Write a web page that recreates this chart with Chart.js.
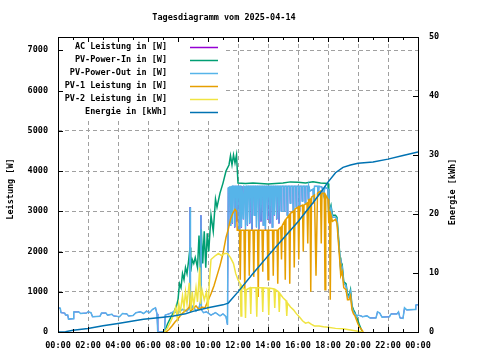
<!DOCTYPE html>
<html>
<head>
<meta charset="utf-8">
<script src="https://cdn.jsdelivr.net/npm/chart.js@4.4.1/dist/chart.umd.min.js"></script>
<style>
  html, body { margin: 0; padding: 0; background: #fff; }
  #wrap { width: 480px; height: 360px; }
</style>
</head>
<body>
<div id="wrap"><canvas id="tages_chart" width="480" height="360"></canvas></div>
<script>
const chartTitle = "Tagesdiagramm vom 2025-04-14";
const seriesNames = ["AC Leistung in [W]", "PV-Power-In in [W]", "PV-Power-Out in [W]",
    "PV-1 Leistung in [W]", "PV-2 Leistung in [W]", "Energie in [kWh]"];
const seriesColors = ["#9400d3", "#009e73", "#56b4e9", "#e69f00", "#f0e442", "#0072b2"];

const timeTicks = [0, 2, 4, 6, 8, 10, 12, 14, 16, 18, 20, 22, 24];
const timeLabels = ["00:00", "02:00", "04:00", "06:00", "08:00", "10:00", "12:00",
    "14:00", "16:00", "18:00", "20:00", "22:00", "00:00"];
const powerTicks = [0, 1000, 2000, 3000, 4000, 5000, 6000, 7000];
const energyTicks = [0, 10, 20, 30, 40, 50];
const powerMax = 7330;
const energyMax = 50;

const pvPowerIn = [
    [6.9, 0], [7.1, 0], [7.3, 200], [7.5, 350], [7.7, 480], [7.9, 650], [8.0, 800], [8.1, 1200],
    [8.2, 1100], [8.3, 1450], [8.4, 1300], [8.5, 1600], [8.6, 1450], [8.7, 1750], [8.8, 2100],
    [8.85, 1500], [8.95, 1800], [9.05, 1700], [9.15, 1850], [9.3, 1600], [9.4, 2400], [9.5, 1500],
    [9.55, 2550], [9.65, 1700], [9.75, 2500], [9.85, 1600], [9.95, 2450], [10.05, 2000], [10.2, 2900],
    [10.35, 2500], [10.5, 3300], [10.6, 3100], [10.8, 3450], [11.0, 3700], [11.2, 4000], [11.4, 4150],
    [11.5, 4380], [11.6, 4150], [11.7, 4400], [11.8, 4200], [11.9, 4400], [12.0, 3700], [12.5, 3690],
    [13.0, 3700], [14.0, 3680], [15.0, 3700], [15.5, 3730], [16.0, 3720], [16.5, 3700], [17.0, 3730],
    [17.5, 3700], [18.0, 3690], [18.05, 2950], [18.2, 3150], [18.3, 2900], [18.5, 2900], [18.6, 2850],
    [18.7, 2350], [18.8, 1850], [18.85, 1550], [18.95, 1650], [19.05, 1250], [19.2, 1200], [19.3, 950],
    [19.4, 900], [19.5, 1050], [19.6, 650], [19.7, 550], [19.8, 480], [19.9, 380], [20.0, 280],
    [20.1, 170], [20.2, 80], [20.3, 0]
];

const pvPowerOut = [
    [0, 600], [0.15, 590], [0.2, 480], [0.45, 470], [0.5, 420], [0.65, 420], [0.7, 320], [1.0, 330],
    [1.05, 500], [1.4, 500], [1.5, 460], [1.9, 470], [2.0, 500], [2.2, 480], [2.3, 380], [2.8, 390],
    [2.9, 470], [3.2, 470], [3.3, 420], [3.6, 440], [3.7, 400], [4.1, 380], [4.3, 460], [4.6, 450],
    [4.7, 400], [5.0, 410], [5.2, 480], [5.5, 500], [5.7, 460], [5.9, 520], [6.1, 480], [6.3, 560],
    [6.5, 600], [6.6, 450], [6.65, 0], [7.1, 0], [7.15, 420], [7.4, 450], [7.7, 500], [8.0, 480],
    [8.3, 560], [8.6, 520], [8.78, 600], [8.8, 3100], [8.83, 550], [9.0, 650], [9.2, 520], [9.4, 600],
    [9.5, 750], [9.53, 2900], [9.56, 550], [9.7, 480], [9.9, 500], [10.2, 420], [10.5, 480], [10.8, 400],
    [11.0, 450], [11.2, 380], [11.3, 180], [11.35, 3580], [11.45, 3600], [11.48, 2650], [11.52, 3600],
    [11.6, 3620], [11.63, 2700], [11.67, 3620], [11.75, 3620], [11.78, 2600], [11.82, 3620], [11.9, 3620],
    [11.93, 2750], [11.97, 3620], [12.05, 3620], [12.08, 2550], [12.12, 3620], [12.2, 3620], [12.23, 2600],
    [12.27, 3620], [12.33, 3620], [12.36, 2800], [12.4, 3620], [12.47, 3600], [12.5, 2550], [12.54, 3620],
    [12.6, 3620], [12.63, 2650], [12.67, 3620], [12.75, 3620], [12.78, 2700], [12.82, 3620], [12.9, 3620],
    [12.93, 2550], [12.97, 3620], [13.05, 3620], [13.08, 2900], [13.12, 3620], [13.2, 3620], [13.23, 2600],
    [13.27, 3620], [13.35, 3620], [13.38, 2550], [13.42, 3620], [13.5, 3620], [13.53, 2750], [13.57, 3620],
    [13.65, 3620], [13.68, 2650], [13.72, 3620], [13.8, 3620], [13.83, 2550], [13.87, 3620], [13.95, 3620],
    [13.98, 2800], [14.02, 3620], [14.1, 3620], [14.13, 2700], [14.17, 3620], [14.25, 3620], [14.28, 2600],
    [14.32, 3620], [14.4, 3620], [14.43, 2900], [14.47, 3620], [14.55, 3620], [14.58, 2800], [14.62, 3620],
    [14.7, 3620], [14.73, 2700], [14.77, 3620], [14.85, 3620], [14.88, 3000], [14.92, 3620], [15.05, 3620],
    [15.08, 3000], [15.12, 3620], [15.25, 3620], [15.28, 2900], [15.32, 3620], [15.45, 3620], [15.48, 3200],
    [15.52, 3620], [15.65, 3620], [15.68, 3000], [15.72, 3620], [15.85, 3620], [15.88, 3100], [15.92, 3620],
    [16.05, 3620], [16.08, 3000], [16.12, 3620], [16.25, 3620], [16.28, 3250], [16.32, 3620], [16.45, 3620],
    [16.48, 3200], [16.52, 3620], [16.65, 3620], [16.68, 3300], [16.72, 3620], [16.8, 3500], [17.0, 3550],
    [17.05, 3200], [17.1, 3620], [17.3, 3620], [17.35, 3400], [17.4, 3620], [17.6, 3600], [17.7, 3400],
    [17.8, 3600], [18.0, 3550], [18.05, 2900], [18.2, 3100], [18.3, 2850], [18.5, 2850], [18.6, 2800],
    [18.7, 2300], [18.8, 1800], [18.85, 1500], [18.95, 1600], [19.05, 1200], [19.2, 1150], [19.3, 900],
    [19.4, 850], [19.5, 1000], [19.6, 600], [19.7, 500], [19.8, 450], [19.9, 380], [20.0, 420], [20.2, 400],
    [20.3, 380], [20.6, 400], [20.8, 350], [21.2, 350], [21.3, 500], [21.45, 470], [21.6, 370], [22.1, 380],
    [22.2, 450], [22.6, 450], [22.7, 500], [22.8, 350], [23.0, 340], [23.1, 600], [23.25, 550], [23.8, 560],
    [23.85, 670], [24, 680]
];

// AC-Leistung liegt im Bild deckungsgleich unter PV-Power-Out
const acPower = pvPowerOut;

const pvOne = [
    [7.2, 0], [7.4, 60], [7.6, 150], [7.8, 250], [8.0, 330], [8.2, 430], [8.4, 500], [8.6, 560],
    [8.75, 620], [8.8, 750], [8.85, 520], [9.0, 580], [9.2, 650], [9.4, 560], [9.6, 620], [9.8, 600],
    [10.0, 780], [10.2, 950], [10.4, 1150], [10.6, 1400], [10.8, 1650], [11.0, 1950], [11.2, 2350],
    [11.35, 2550], [11.5, 2800], [11.65, 2950], [11.8, 3050], [11.9, 3000], [11.95, 2530], [12.1, 2530],
    [12.15, 1300], [12.2, 2530], [12.4, 2530], [12.45, 970], [12.5, 2530], [12.7, 2530], [12.75, 1400],
    [12.8, 2530], [13.0, 2530], [13.05, 1370], [13.1, 2530], [13.3, 2530], [13.35, 870], [13.4, 2530],
    [13.6, 2530], [13.65, 1500], [13.7, 2530], [13.95, 2530], [14.0, 1300], [14.05, 2530], [14.3, 2530],
    [14.35, 1400], [14.4, 2530], [14.6, 2530], [14.65, 1200], [14.7, 2550], [14.85, 2600], [14.9, 1800],
    [14.95, 2650], [15.1, 2750], [15.15, 1300], [15.2, 2800], [15.4, 2900], [15.45, 1200], [15.5, 2950],
    [15.7, 3000], [15.75, 1600], [15.8, 3050], [16.0, 3100], [16.05, 1800], [16.1, 3120], [16.3, 3150],
    [16.35, 2000], [16.4, 3150], [16.6, 3200], [16.65, 2200], [16.7, 3280], [16.8, 3300], [16.85, 1000],
    [16.9, 3350], [17.1, 3400], [17.2, 1400], [17.3, 3450], [17.5, 3500], [17.55, 2200], [17.6, 3450],
    [17.75, 3450], [17.8, 1050], [17.85, 3400], [18.0, 3300], [18.05, 2700], [18.1, 3000], [18.15, 800],
    [18.2, 2900], [18.3, 2750], [18.5, 2800], [18.6, 2700], [18.7, 2200], [18.8, 1700], [18.85, 1400],
    [18.95, 1500], [19.05, 1100], [19.2, 1050], [19.3, 800], [19.4, 800], [19.5, 900], [19.6, 550],
    [19.7, 450], [19.8, 400], [19.9, 300], [20.0, 200], [20.1, 120], [20.2, 80], [20.35, 0]
];

const pvTwo = [
    [7.1, 0], [7.3, 100], [7.5, 250], [7.7, 420], [7.85, 620], [7.95, 350], [8.05, 700], [8.15, 480],
    [8.3, 900], [8.4, 600], [8.5, 1000], [8.6, 700], [8.75, 1220], [8.85, 550], [8.95, 1000], [9.05, 650],
    [9.2, 1100], [9.3, 750], [9.45, 1600], [9.5, 700], [9.6, 1050], [9.75, 800], [9.9, 1000], [10.0, 550],
    [10.1, 1300], [10.2, 1800], [10.35, 1850], [10.5, 1900], [10.7, 1950], [10.9, 1900], [11.1, 1950],
    [11.3, 1950], [11.5, 1850], [11.7, 1700], [11.85, 1450], [12.0, 1300], [12.15, 1200], [12.2, 400],
    [12.25, 1150], [12.45, 1050], [12.5, 350], [12.55, 1050], [12.8, 1100], [12.85, 450], [12.9, 1100],
    [13.2, 1100], [13.25, 380], [13.3, 1100], [13.6, 1100], [13.65, 500], [13.7, 1100], [14.0, 1090],
    [14.05, 420], [14.1, 1090], [14.4, 1070], [14.45, 600], [14.5, 1050], [14.7, 1000], [14.75, 500],
    [14.8, 950], [15.0, 850], [15.2, 780], [15.25, 400], [15.3, 720], [15.5, 620], [15.7, 550],
    [15.9, 450], [16.1, 370], [16.3, 280], [16.5, 220], [16.7, 240], [16.9, 190], [17.1, 150],
    [17.4, 150], [17.7, 130], [18.0, 120], [18.5, 90], [19.0, 80], [19.5, 50], [20.0, 20], [20.3, 0]
];

const energy = [
    [0, 0], [0.5, 0.05], [1, 0.3], [2, 0.6], [3, 1.05], [4, 1.45], [5, 1.85], [5.7, 2.15], [7, 2.5],
    [7.7, 2.7], [8.5, 3.1], [9, 3.5], [10, 4.1], [11, 4.6], [11.35, 4.9], [12, 6.8], [13, 9.9],
    [14, 12.9], [15, 15.8], [16, 18.7], [17, 21.9], [17.5, 23.6], [18, 25.4], [18.5, 27.0], [19, 27.9],
    [19.5, 28.3], [20, 28.6], [21, 28.8], [22, 29.3], [23, 29.9], [24, 30.5]
];

window.addEventListener("DOMContentLoaded", function() {
    const fontFamily = "'DejaVu Sans Mono', 'Liberation Mono', monospace";
    const font = { family: fontFamily, size: 8.5, weight: "bold" };

    const toPoints = arr => arr.map(p => ({ x: p[0], y: p[1] }));

    // gnuplot zeichnet spaetere Kurven oben drauf -> order absteigend
    const allSeries = [acPower, pvPowerIn, pvPowerOut, pvOne, pvTwo, energy];
    const datasets = allSeries.map((s, i) => ({
        label: seriesNames[i],
        data: toPoints(s),
        borderColor: seriesColors[i],
        backgroundColor: seriesColors[i],
        borderWidth: i == 0 ? 1 : 1.5,
        pointRadius: 0,
        tension: 0,
        fill: false,
        yAxisID: i == 5 ? "y1" : "y",
        order: 6 - i
    }));

    const gnuplotDeko = {
        id: "gnuplotDeko",
        afterDraw(chart) {
            const ctx = chart.ctx;
            const a = chart.chartArea;
            const sx = chart.scales.x, sy = chart.scales.y, sy1 = chart.scales.y1;
            ctx.save();

            // Legende deckend (key opaque)
            ctx.fillStyle = "#fff";
            ctx.fillRect(a.left + 1, a.top + 1, 165, 82);

            ctx.font = "bold 8.5px " + fontFamily;
            ctx.fillStyle = "#000";
            ctx.strokeStyle = "#000";
            ctx.lineWidth = 1;

            // Rahmen
            ctx.strokeRect(Math.round(a.left) + 0.5, Math.round(a.top) + 0.5,
                Math.round(a.right - a.left), Math.round(a.bottom - a.top));

            ctx.beginPath();
            for (let h = 0; h <= 24; h++) {
                const x = Math.round(sx.getPixelForValue(h)) + 0.5;
                const len = h % 2 == 0 ? 5 : 3;
                ctx.moveTo(x, a.bottom); ctx.lineTo(x, a.bottom - len);
                ctx.moveTo(x, a.top); ctx.lineTo(x, a.top + len);
            }
            powerTicks.forEach(v => {
                const y = Math.round(sy.getPixelForValue(v)) + 0.5;
                ctx.moveTo(a.left, y); ctx.lineTo(a.left + 5, y);
            });
            energyTicks.forEach(v => {
                const y = Math.round(sy1.getPixelForValue(v)) + 0.5;
                ctx.moveTo(a.right, y); ctx.lineTo(a.right - 5, y);
            });
            ctx.stroke();

            // Titel
            ctx.textAlign = "center";
            ctx.textBaseline = "middle";
            ctx.fillText(chartTitle, 224, 18);

            // Achsentitel
            ctx.save();
            ctx.translate(11, 189);
            ctx.rotate(-Math.PI / 2);
            ctx.fillText("Leistung [W]", 0, 0);
            ctx.restore();
            ctx.save();
            ctx.translate(453, 192);
            ctx.rotate(-Math.PI / 2);
            ctx.fillText("Energie [kWh]", 0, 0);
            ctx.restore();

            // Legende
            ctx.textAlign = "right";
            ctx.lineWidth = 1.5;
            for (let i = 0; i < seriesNames.length; i++) {
                const y = 47 + i * 13;
                ctx.fillStyle = "#000";
                ctx.fillText(seriesNames[i], 167, y);
                ctx.strokeStyle = seriesColors[i];
                ctx.beginPath();
                ctx.moveTo(190, y + 0.5);
                ctx.lineTo(218, y + 0.5);
                ctx.stroke();
            }
            ctx.restore();
        }
    };

    const ctx = document.getElementById("tages_chart");
    new Chart(ctx, {
        type: "line",
        data: { datasets: datasets },
        options: {
            responsive: false,
            animation: false,
            devicePixelRatio: 1,
            layout: { padding: { top: 37, left: 0, right: 0, bottom: 0 } },
            plugins: {
                legend: { display: false },
                title: { display: false },
                tooltip: { enabled: false }
            },
            scales: {
                x: {
                    type: "linear",
                    min: 0,
                    max: 24,
                    afterBuildTicks: s => { s.ticks = timeTicks.map(v => ({ value: v })); },
                    afterFit: s => { s.height = 28; },
                    ticks: {
                        callback: (v, i) => timeLabels[i],
                        font: font, color: "#000", padding: 9,
                        maxRotation: 0, autoSkip: false
                    },
                    grid: { color: "#a0a0a0", drawTicks: false },
                    border: { display: false, dash: [4, 3] }
                },
                y: {
                    position: "left",
                    min: 0,
                    max: powerMax,
                    afterBuildTicks: s => { s.ticks = powerTicks.map(v => ({ value: v })); },
                    afterFit: s => { s.width = 58; },
                    ticks: {
                        callback: v => String(v),
                        font: font, color: "#000", padding: 10
                    },
                    grid: { color: "#a0a0a0", drawTicks: false },
                    border: { display: false, dash: [4, 3] }
                },
                y1: {
                    position: "right",
                    min: 0,
                    max: energyMax,
                    afterBuildTicks: s => { s.ticks = energyTicks.map(v => ({ value: v })); },
                    afterFit: s => { s.width = 62; },
                    ticks: {
                        callback: v => String(v),
                        font: font, color: "#000", padding: 11
                    },
                    grid: { drawOnChartArea: false, drawTicks: false },
                    border: { display: false }
                }
            }
        },
        plugins: [gnuplotDeko]
    });
});
</script>
</body>
</html>
